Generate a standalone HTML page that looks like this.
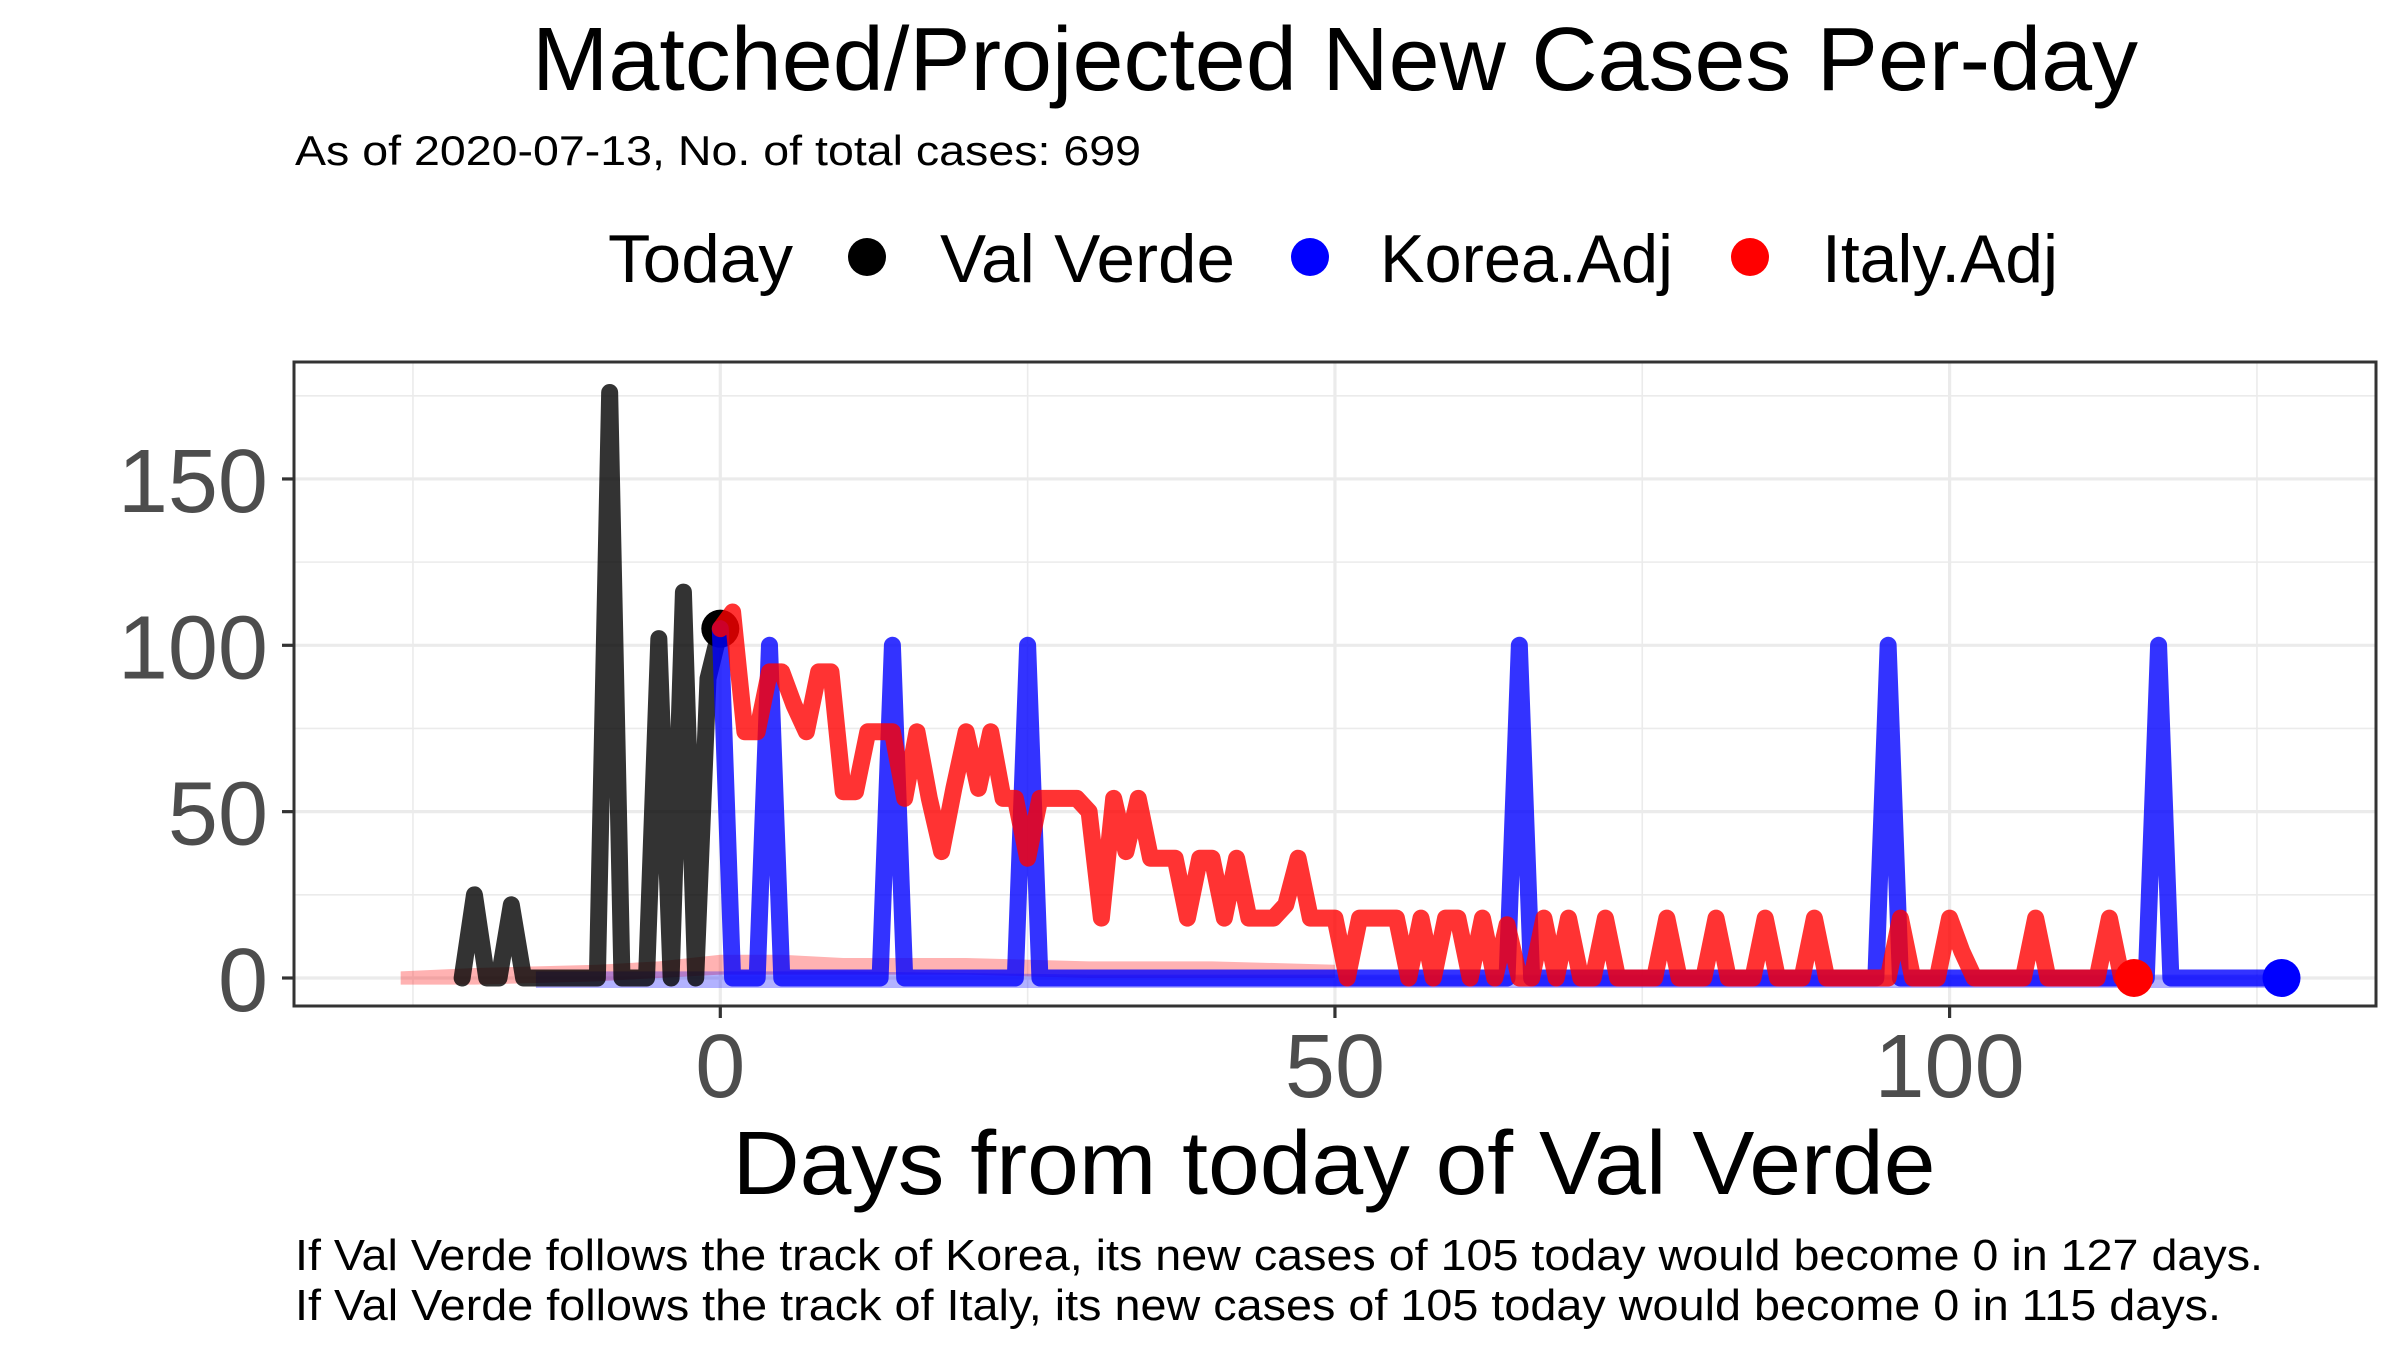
<!DOCTYPE html>
<html><head><meta charset="utf-8"><title>Matched/Projected New Cases Per-day</title>
<style>
html,body{margin:0;padding:0;background:#fff;}
svg{display:block;font-family:"Liberation Sans",Arial,sans-serif;}
</style></head>
<body>
<svg id="chart" width="2400" height="1350" viewBox="0 0 2400 1350" xmlns="http://www.w3.org/2000/svg">
  <rect x="0" y="0" width="2400" height="1350" fill="#fff"/>
  <text x="1335" y="90" font-size="90" text-anchor="middle" textLength="1606" lengthAdjust="spacingAndGlyphs" fill="#000">Matched/Projected New Cases Per-day</text>
  <text x="295" y="165" font-size="42" textLength="846" lengthAdjust="spacingAndGlyphs" fill="#000">As of 2020-07-13, No. of total cases: 699</text>
  <g>
    <text x="608" y="282" font-size="68" textLength="185" lengthAdjust="spacingAndGlyphs">Today</text>
    <g>
      <circle cx="867" cy="257" r="19" fill="#000"/>
      <text x="940" y="282" font-size="68" textLength="295" lengthAdjust="spacingAndGlyphs">Val Verde</text>
    </g>
    <g>
      <circle cx="1310" cy="257" r="19" fill="#0000ff"/>
      <text x="1380" y="282" font-size="68" textLength="293" lengthAdjust="spacingAndGlyphs">Korea.Adj</text>
    </g>
    <g>
      <circle cx="1750" cy="257" r="19" fill="#ff0000"/>
      <text x="1822" y="282" font-size="68" textLength="236" lengthAdjust="spacingAndGlyphs">Italy.Adj</text>
    </g>
  </g>
  <g id="grid"></g>
  <g id="plotarea"></g>
  <rect x="294" y="362" width="2082" height="644" fill="none" stroke="#333" stroke-width="3"/>
  <g id="axes"></g>
  <text x="1334" y="1194" font-size="90" text-anchor="middle" textLength="1203" lengthAdjust="spacingAndGlyphs" fill="#000">Days from today of Val Verde</text>
  <text x="295" y="1270" font-size="44" textLength="1968" lengthAdjust="spacingAndGlyphs" fill="#000">If Val Verde follows the track of Korea, its new cases of 105 today would become 0 in 127 days.</text>
  <text x="295" y="1320" font-size="44" textLength="1926" lengthAdjust="spacingAndGlyphs" fill="#000">If Val Verde follows the track of Italy, its new cases of 105 today would become 0 in 115 days.</text>
</svg>
<script>
const xMajorTicks = [0, 50, 100];
const xMinorTicks = [-25, 25, 75, 125];
const yMajorTicks = [0, 50, 100, 150];
const yMinorTicks = [25, 75, 125, 175];
const xTickLabels = ["0", "50", "100"];
const yTickLabels = ["0", "50", "100", "150"];

const blackDays = [-21,-20,-19,-18,-17,-16,-15,-14,-13,-12,-11,-10,-9,-8,-7,-6,-5,-4,-3,-2,-1,0];
const blackVals = [0,25,0,0,22,0,0,0,0,0,0,0,176,0,0,0,102,0,116,0,90,105];

const koreaSpikeDays = [0, 4, 14, 25, 65, 95, 117];
const koreaSpikeVals = [105, 100, 100, 100, 100, 100, 100];
const koreaLastDay = 127;

const italyVals = [105,110,74,74,92,92,82,74,92,92,56,56,74,74,74,54,74,54,38,57,
  74,57,74,54,54,36,54,54,54,54,50,18,54,38,54,36,36,36,18,36,
  36,18,36,18,18,18,22,36,18,18,18,0,18,18,18,18,0,18,0,18,
  18,0,18,0,16,0,0,18,0,18,0,0,18,0,0,0,0,18,0,0,
  0,18,0,0,0,18,0,0,0,18,0,0,0,0,0,0,18,0,0,0,
  18,8,0,0,0,0,0,18,0,0,0,0,0,18,0,0];

const ribbonDays = [-26,-20,-10,-5,0,5,10,20,30,40,50];
const redRibbonLo = [-2,-2,-1,0,1,1,1,1,0,0,0];
const redRibbonHi = [2,3,4,5,7,7,6,6,5,5,4];
const blueRibbonDays = [-15,0,10,30,60,100,127];
const blueRibbonLo = [-3,-3,-3,-3,-3,-3,-3];
const blueRibbonHi = [2,2,2,1,1,1,1];

const NS = "http://www.w3.org/2000/svg";
const X = d => 720.3 + 12.293 * d;
const Y = v => 978 - 3.327 * v;
const PL = 294, PR = 2376, PT = 362, PB = 1006;

function mk(tag, attrs, parent) {
  const el = document.createElementNS(NS, tag);
  for (const k in attrs) el.setAttribute(k, attrs[k]);
  parent.appendChild(el);
  return el;
}
const grid = document.getElementById('grid');
const plot = document.getElementById('plotarea');
const axes = document.getElementById('axes');

yMinorTicks.forEach(v => {
  const l = mk('line', {x1: PL, x2: PR, y1: Y(v), y2: Y(v), stroke: '#ebebeb', 'stroke-width': 1.6}, grid);
  
  
});
xMinorTicks.forEach(d => {
  const l = mk('line', {x1: X(d), x2: X(d), y1: PT, y2: PB, stroke: '#ebebeb', 'stroke-width': 1.6}, grid);
  
  
});
yMajorTicks.forEach(v => {
  const l = mk('line', {x1: PL, x2: PR, y1: Y(v), y2: Y(v), stroke: '#ebebeb', 'stroke-width': 3.2}, grid);
  
  
});
xMajorTicks.forEach(d => {
  const l = mk('line', {x1: X(d), x2: X(d), y1: PT, y2: PB, stroke: '#ebebeb', 'stroke-width': 3.2}, grid);
  
  
});

function ribbon(days, lo, hi, color, name) {
  let d = '';
  days.forEach((t, i) => { d += (i ? 'L' : 'M') + X(t) + ',' + Y(hi[i]); });
  for (let i = days.length - 1; i >= 0; i--) d += 'L' + X(days[i]) + ',' + Y(lo[i]);
  const p = mk('path', {d: d + 'Z', fill: color}, plot);
  
  
}
ribbon(ribbonDays, redRibbonLo, redRibbonHi, 'rgba(255,0,0,0.3)', 'italy-ribbon');
ribbon(blueRibbonDays, blueRibbonLo, blueRibbonHi, 'rgba(0,0,255,0.3)', 'korea-ribbon');

function line(days, vals, color, name) {
  const d = days.map((t, i) => (i ? 'L' : 'M') + X(t) + ',' + Y(vals[i])).join('');
  const p = mk('path', {d: d, fill: 'none', stroke: color, 'stroke-width': 17, 'stroke-linejoin': 'round', 'stroke-linecap': 'round'}, plot);
  
  
}

line(blackDays, blackVals, 'rgba(0,0,0,0.8)', 'val-verde-line');
const bdot = mk('circle', {cx: X(blackDays[blackDays.length - 1]), cy: Y(blackVals[blackVals.length - 1]), r: 19, fill: '#000'}, plot);



const koreaDays = [], koreaVals = [];
for (let t = 0; t <= koreaLastDay; t++) {
  koreaDays.push(t);
  const k = koreaSpikeDays.indexOf(t);
  koreaVals.push(k >= 0 ? koreaSpikeVals[k] : 0);
}
line(koreaDays, koreaVals, 'rgba(0,0,255,0.8)', 'korea-line');

const italyDays = italyVals.map((v, i) => i);
line(italyDays, italyVals, 'rgba(255,0,0,0.8)', 'italy-line');

const rdot = mk('circle', {cx: X(italyDays[italyDays.length - 1]), cy: Y(italyVals[italyVals.length - 1]), r: 19, fill: '#ff0000'}, plot);


const kdot = mk('circle', {cx: X(koreaLastDay), cy: Y(koreaVals[koreaVals.length - 1]), r: 19, fill: '#0000ff'}, plot);



yMajorTicks.forEach((v, i) => {
  const t = mk('line', {x1: 282, x2: PL, y1: Y(v), y2: Y(v), stroke: '#333', 'stroke-width': 3.2}, axes);
  
  
  const tx = mk('text', {x: 268, y: Y(v) + 33, 'font-size': 90, 'text-anchor': 'end', fill: '#4d4d4d'}, axes);
  tx.textContent = yTickLabels[i];
  
  
});
xMajorTicks.forEach((d, i) => {
  const t = mk('line', {x1: X(d), x2: X(d), y1: PB, y2: PB + 12, stroke: '#333', 'stroke-width': 3.2}, axes);
  
  
  const tx = mk('text', {x: X(d), y: 1097, 'font-size': 90, 'text-anchor': 'middle', fill: '#4d4d4d'}, axes);
  tx.textContent = xTickLabels[i];
  
  
});
</script>
</body></html>
